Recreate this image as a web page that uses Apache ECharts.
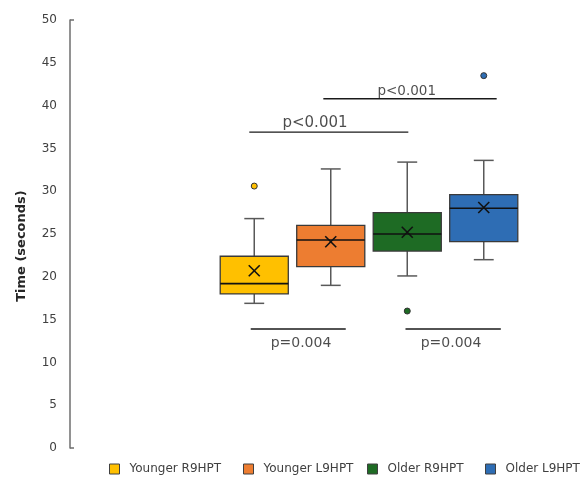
<!DOCTYPE html>
<html>
<head>
<meta charset="utf-8">
<script src="https://cdn.jsdelivr.net/npm/echarts@6/dist/echarts.min.js"></script>
<style>html,body{margin:0;padding:0;background:#fff}#c{width:580px;height:477px}</style>
</head>
<body>
<div id="c"></div>
<script>
const categories = ['Younger R9HPT', 'Younger L9HPT', 'Older R9HPT', 'Older L9HPT'];
const whiskerMin = [16.9, 19.0, 20.1, 22.0];
const q1 = [18.0, 21.2, 23.0, 24.1];
const median = [19.2, 24.3, 25.0, 28.0];
const q3 = [22.4, 26.0, 27.5, 29.6];
const whiskerMax = [26.8, 32.6, 33.4, 33.6];
const means = [20.7, 24.1, 25.2, 28.1];
const outliers = [[30.6], [], [16.0], [43.5]];
const yTicks = [0, 5, 10, 15, 20, 25, 30, 35, 40, 45, 50];
// significance brackets: [from index, to index, y value], label
const sigFrom = [-0.065, 0.903, -0.046, 1.977];
const sigTo = [2.014, 3.169, 1.196, 3.223];
const sigY = [36.9, 40.8, 13.9, 13.9];
const sigText = ['p<0.001', 'p<0.001', 'p=0.004', 'p=0.004'];
const sigTextX = [0.794, 1.993, 0.611, 2.572];
const sigTextY = [37.95, 41.7, 12.2, 12.2];
const colors = ['#FFC000', '#ED7D31', '#1E6B24', '#2E6DB4'];
const legendLeft = [109, 243, 367, 485];

const chart = echarts.init(document.getElementById('c'));

function renderBox(params, api) {
  const x = api.value(0);
  const band = api.size([1, 0])[0];
  const bw = band * 0.89, cw = band * 0.26;
  const pMin = api.coord([x, api.value(1)]);
  const pQ1 = api.coord([x, api.value(2)]);
  const pMed = api.coord([x, api.value(3)]);
  const pQ3 = api.coord([x, api.value(4)]);
  const pMax = api.coord([x, api.value(5)]);
  const pMean = api.coord([x, api.value(6)]);
  const cx = pMed[0];
  const wStyle = {stroke: '#595959', lineWidth: 1.5};
  const s = 5.5;
  return {
    type: 'group',
    children: [
      {type: 'line', shape: {x1: cx, y1: pQ3[1], x2: cx, y2: pMax[1]}, style: wStyle},
      {type: 'line', shape: {x1: cx - cw / 2, y1: pMax[1], x2: cx + cw / 2, y2: pMax[1]}, style: wStyle},
      {type: 'line', shape: {x1: cx, y1: pQ1[1], x2: cx, y2: pMin[1]}, style: wStyle},
      {type: 'line', shape: {x1: cx - cw / 2, y1: pMin[1], x2: cx + cw / 2, y2: pMin[1]}, style: wStyle},
      {type: 'rect', shape: {x: cx - bw / 2, y: pQ3[1], width: bw, height: pQ1[1] - pQ3[1]},
        style: {fill: colors[params.seriesIndex], stroke: '#3a3a3a', lineWidth: 1.3}},
      {type: 'line', shape: {x1: cx - bw / 2, y1: pMed[1], x2: cx + bw / 2, y2: pMed[1]}, style: {stroke: '#111', lineWidth: 1.6}},
      {type: 'line', shape: {x1: cx - s, y1: pMean[1] - s, x2: cx + s, y2: pMean[1] + s}, style: {stroke: '#111', lineWidth: 1.6}},
      {type: 'line', shape: {x1: cx - s, y1: pMean[1] + s, x2: cx + s, y2: pMean[1] - s}, style: {stroke: '#111', lineWidth: 1.6}}
    ]
  };
}

const series = categories.map((name, i) => ({
  name: name,
  type: 'custom',
  xAxisIndex: 0,
  yAxisIndex: 0,
  itemStyle: {color: colors[i]},
  renderItem: renderBox,
  data: [[i, whiskerMin[i], q1[i], median[i], q3[i], whiskerMax[i], means[i]]],
  z: 2
}));

categories.forEach((name, i) => {
  series.push({
    name: name + ' outliers',
    type: 'scatter',
    symbol: 'circle',
    symbolSize: 6,
    itemStyle: {color: colors[i], borderColor: '#333', borderWidth: 1, opacity: 1},
    data: outliers[i].map(v => [i, v]),
    z: 3
  });
});

sigFrom.forEach((f, k) => {
  series.push({
    type: 'line',
    xAxisIndex: 1,
    symbol: 'none',
    lineStyle: {color: '#1a1a1a', width: 1.3},
    data: [[f, sigY[k]], [sigTo[k], sigY[k]]],
    z: 4
  });
});
series.push({
  type: 'scatter',
  xAxisIndex: 1,
  symbolSize: 0,
  label: {
    show: true,
    position: 'inside',
    formatter: p => p.value[2],
    fontFamily: 'DejaVu Sans',
    fontSize: 14,
    color: '#1f1f1f'
  },
  data: sigText.map((t, k) => ({
    value: [sigTextX[k], sigTextY[k], t],
    label: k === 0 ? {fontSize: 15} : (k === 1 ? {fontSize: 13.5} : {})
  })),
  z: 5
});

const legends = categories.map((name, i) => ({
  data: [name],
  left: legendLeft[i],
  top: 463,
  padding: 0,
  icon: 'rect',
  itemWidth: 10,
  itemHeight: 10,
  itemStyle: {borderColor: '#404040', borderWidth: 1},
  textStyle: {fontFamily: 'DejaVu Sans', fontSize: 12, color: '#404040', padding: [0, 0, 0, 5]}
}));

chart.setOption({
  animation: false,
  backgroundColor: '#fff',
  grid: {left: 216, right: 58, top: 20, bottom: 29, containLabel: false},
  legend: legends,
  xAxis: [
    {type: 'category', data: categories, boundaryGap: true, show: false},
    {type: 'value', min: -0.5, max: 3.5, show: false}
  ],
  yAxis: {
    type: 'value',
    min: 0,
    max: 50,
    interval: 5,
    offset: 146,
    name: 'Time (seconds)',
    nameLocation: 'middle',
    nameGap: 42,
    nameRotate: 90,
    nameTextStyle: {fontFamily: 'DejaVu Sans', fontWeight: 'bold', fontSize: 13, color: '#262626', padding: [0, 24, 0, 0]},
    axisLine: {show: true, onZero: false, lineStyle: {color: '#6e6e6e', width: 1.5}},
    axisTick: {show: true, inside: true, length: 4, customValues: [0, 50], lineStyle: {color: '#6e6e6e', width: 1.5}},
    axisLabel: {
      margin: 13,
      fontFamily: 'DejaVu Sans',
      fontSize: 12,
      color: '#404040',
      customValues: yTicks
    },
    splitLine: {show: false}
  },
  series: series
});
</script>
</body>
</html>
